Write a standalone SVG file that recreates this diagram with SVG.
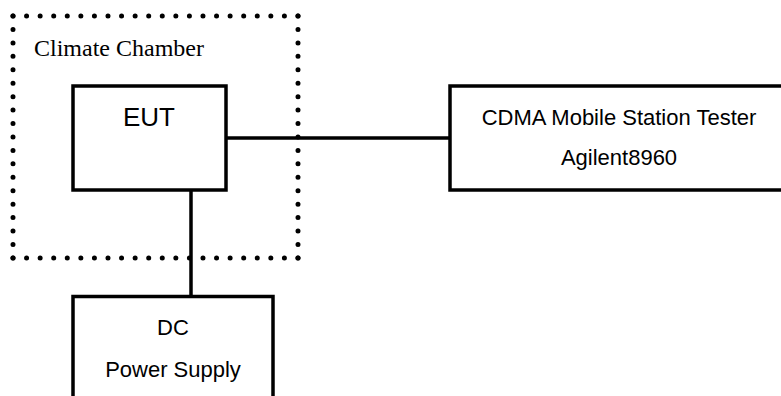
<svg xmlns="http://www.w3.org/2000/svg" width="781" height="396" viewBox="0 0 781 396">
<style>
.box{fill:#fff;stroke:#000;stroke-width:3.5}
.wire{stroke:#000;stroke-width:3.5;fill:none}
.dot{stroke:#000;stroke-width:5;stroke-linecap:round;fill:none}
.sans{font-family:"Liberation Sans",Arial,sans-serif;fill:#000}
.serif{font-family:"Liberation Serif","Times New Roman",serif;fill:#000}
</style>
<rect width="781" height="396" fill="#fff"/>
<g id="connectors">
<line class="wire" x1="226" y1="138" x2="450" y2="138"/>
<line class="wire" x1="191" y1="190" x2="191" y2="296"/>
</g>
<g id="chamber">
<line class="dot" x1="13" y1="16" x2="298" y2="16" stroke-dasharray="0 13.57"/>
<line class="dot" x1="13" y1="16" x2="13" y2="258" stroke-dasharray="0 13.44"/>
<line class="dot" x1="298" y1="16" x2="298" y2="258" stroke-dasharray="0 13.44"/>
<line class="dot" x1="13" y1="258" x2="298" y2="258" stroke-dasharray="0 13.57"/>
<text class="serif" x="34" y="56" font-size="24">Climate Chamber</text>
</g>
<g id="eut">
<rect class="box" x="73" y="86" width="153" height="104" fill-opacity="0"/>
<text class="sans" x="149" y="126" font-size="26" text-anchor="middle">EUT</text>
</g>
<g id="tester">
<rect class="box" x="450" y="86" width="340" height="104"/>
<text class="sans" x="619" y="125" font-size="22" text-anchor="middle">CDMA Mobile Station Tester</text>
<text class="sans" x="619" y="165" font-size="22" text-anchor="middle">Agilent8960</text>
</g>
<g id="power">
<rect class="box" x="73" y="296.5" width="200" height="110"/>
<text class="sans" x="173" y="335" font-size="22" text-anchor="middle">DC</text>
<text class="sans" x="173" y="377" font-size="22" text-anchor="middle">Power Supply</text>
</g>
</svg>
